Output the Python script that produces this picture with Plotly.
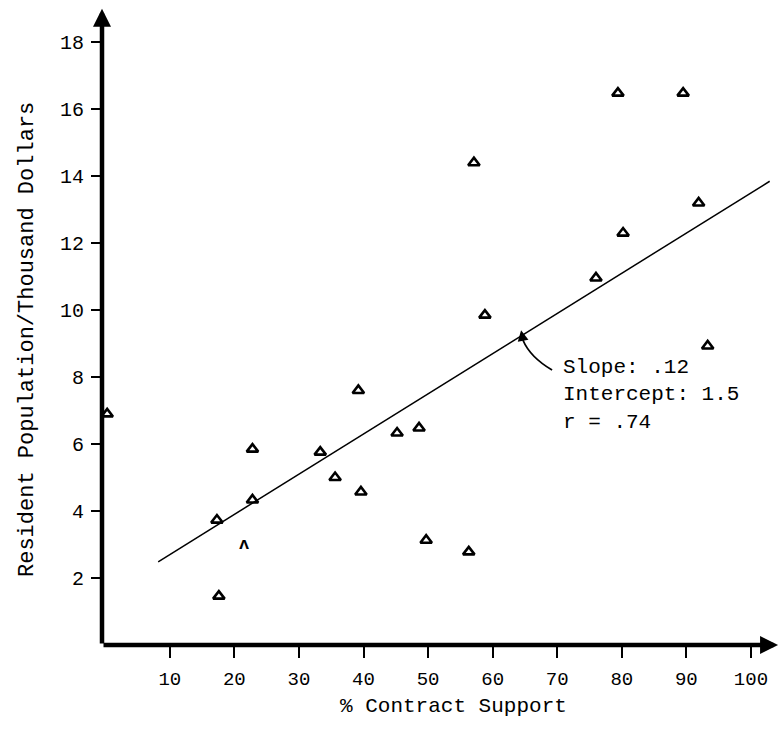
import plotly.graph_objects as go

# ---- data ----
contract_support = [0.3, 17.3, 17.6, 22.8, 22.8, 33.3, 35.6, 39.2, 39.6, 45.2, 48.6,
                    49.7, 56.3, 57.1, 58.8, 76.0, 79.4, 80.2, 89.5, 91.9, 93.3]
resident_pop = [6.9, 3.73, 1.46, 5.85, 4.33, 5.76, 5.0, 7.6, 4.57, 6.33, 6.48,
                3.13, 2.78, 14.4, 9.85, 10.96, 16.48, 12.3, 16.48, 13.2, 8.93]
partial_x = [21.5]
partial_y = [3.0]

slope = 0.12
intercept = 1.5
r_value = 0.74
fit_x = [8.2, 102.9]
fit_y = [intercept + slope * v for v in fit_x]

x_ticks = [10, 20, 30, 40, 50, 60, 70, 80, 90, 100]
y_ticks = [2, 4, 6, 8, 10, 12, 14, 16, 18]

MONO = "Liberation Mono, Courier New, monospace"

fig = go.Figure()
fig.add_trace(go.Scatter(x=fit_x, y=fit_y, mode="lines",
                         line=dict(color="black", width=1.5), hoverinfo="skip"))
fig.add_trace(go.Scatter(x=contract_support, y=resident_pop, mode="markers",
                         marker=dict(symbol="triangle-up-open", size=10, color="black",
                                     line=dict(width=2.6, color="black"))))
fig.add_trace(go.Scatter(x=partial_x, y=partial_y, mode="text", text=["<b>ʌ</b>"],
                         textfont=dict(size=17, color="black", family=MONO)))

# axes drawn as thick arrows
fig.add_annotation(x=-0.5, y=19.0, ax=-0.5, ay=0, xref="x", yref="y", axref="x", ayref="y",
                   text="", showarrow=True, arrowhead=2, arrowsize=0.8, arrowwidth=4.5,
                   arrowcolor="black")
fig.add_annotation(x=104.2, y=0, ax=-0.5, ay=0, xref="x", yref="y", axref="x", ayref="y",
                   text="", showarrow=True, arrowhead=2, arrowsize=0.8, arrowwidth=4.5,
                   arrowcolor="black")

# curved callout arrow
fig.add_shape(type="path", path="M 69.2,8.21 Q 65.8,8.6 64.7,9.1",
              xref="x", yref="y", line=dict(color="black", width=1.8))
fig.add_annotation(x=64.4, y=9.4, ax=64.75, ay=9.05, xref="x", yref="y", axref="x", ayref="y",
                   text="", showarrow=True, arrowhead=2, arrowsize=1.2, arrowwidth=1.8,
                   arrowcolor="black")
fig.add_annotation(x=70.6, y=8.7, xref="x", yref="y", xanchor="left", yanchor="top",
                   showarrow=False, align="left",
                   text=f"Slope: .{int(round(slope*100))}<br>Intercept: {intercept}<br>r = .{int(round(r_value*100))}",
                   font=dict(family=MONO, size=21, color="black"))

# axis titles
fig.add_annotation(x=0.5, y=-0.095, xref="paper", yref="paper", xanchor="center",
                   yanchor="middle", showarrow=False, text="% Contract Support",
                   xshift=12, font=dict(family=MONO, size=21, color="black"))
fig.add_annotation(x=-0.11, y=0.475, xref="paper", yref="paper", xanchor="center",
                   yanchor="middle", showarrow=False, textangle=-90,
                   text="Resident Population/Thousand Dollars",
                   font=dict(family=MONO, size=22, color="black"))

fig.update_layout(
    width=782, height=730,
    margin=dict(l=102, r=2, t=2, b=85),
    paper_bgcolor="white", plot_bgcolor="white",
    showlegend=False,
    font=dict(family=MONO, color="black"),
    xaxis=dict(range=[-0.5, 104.5], tickvals=x_ticks, ticks="outside", ticklen=12,
               tickwidth=1.5, tickcolor="black", showgrid=False, zeroline=False,
               showline=False, tickfont=dict(family=MONO, size=19),
               ticklabelstandoff=4, automargin=False),
    yaxis=dict(range=[0, 19.2], tickvals=y_ticks, ticks="outside", ticklen=10,
               tickwidth=1.5, tickcolor="black", showgrid=False, zeroline=False,
               showline=False, tickfont=dict(family=MONO, size=20),
               ticklabelstandoff=3, automargin=False),
)

fig.write_html("out.html", config={"displayModeBar": False},
               post_script="document.body.style.margin='0';document.body.style.padding='0';")
